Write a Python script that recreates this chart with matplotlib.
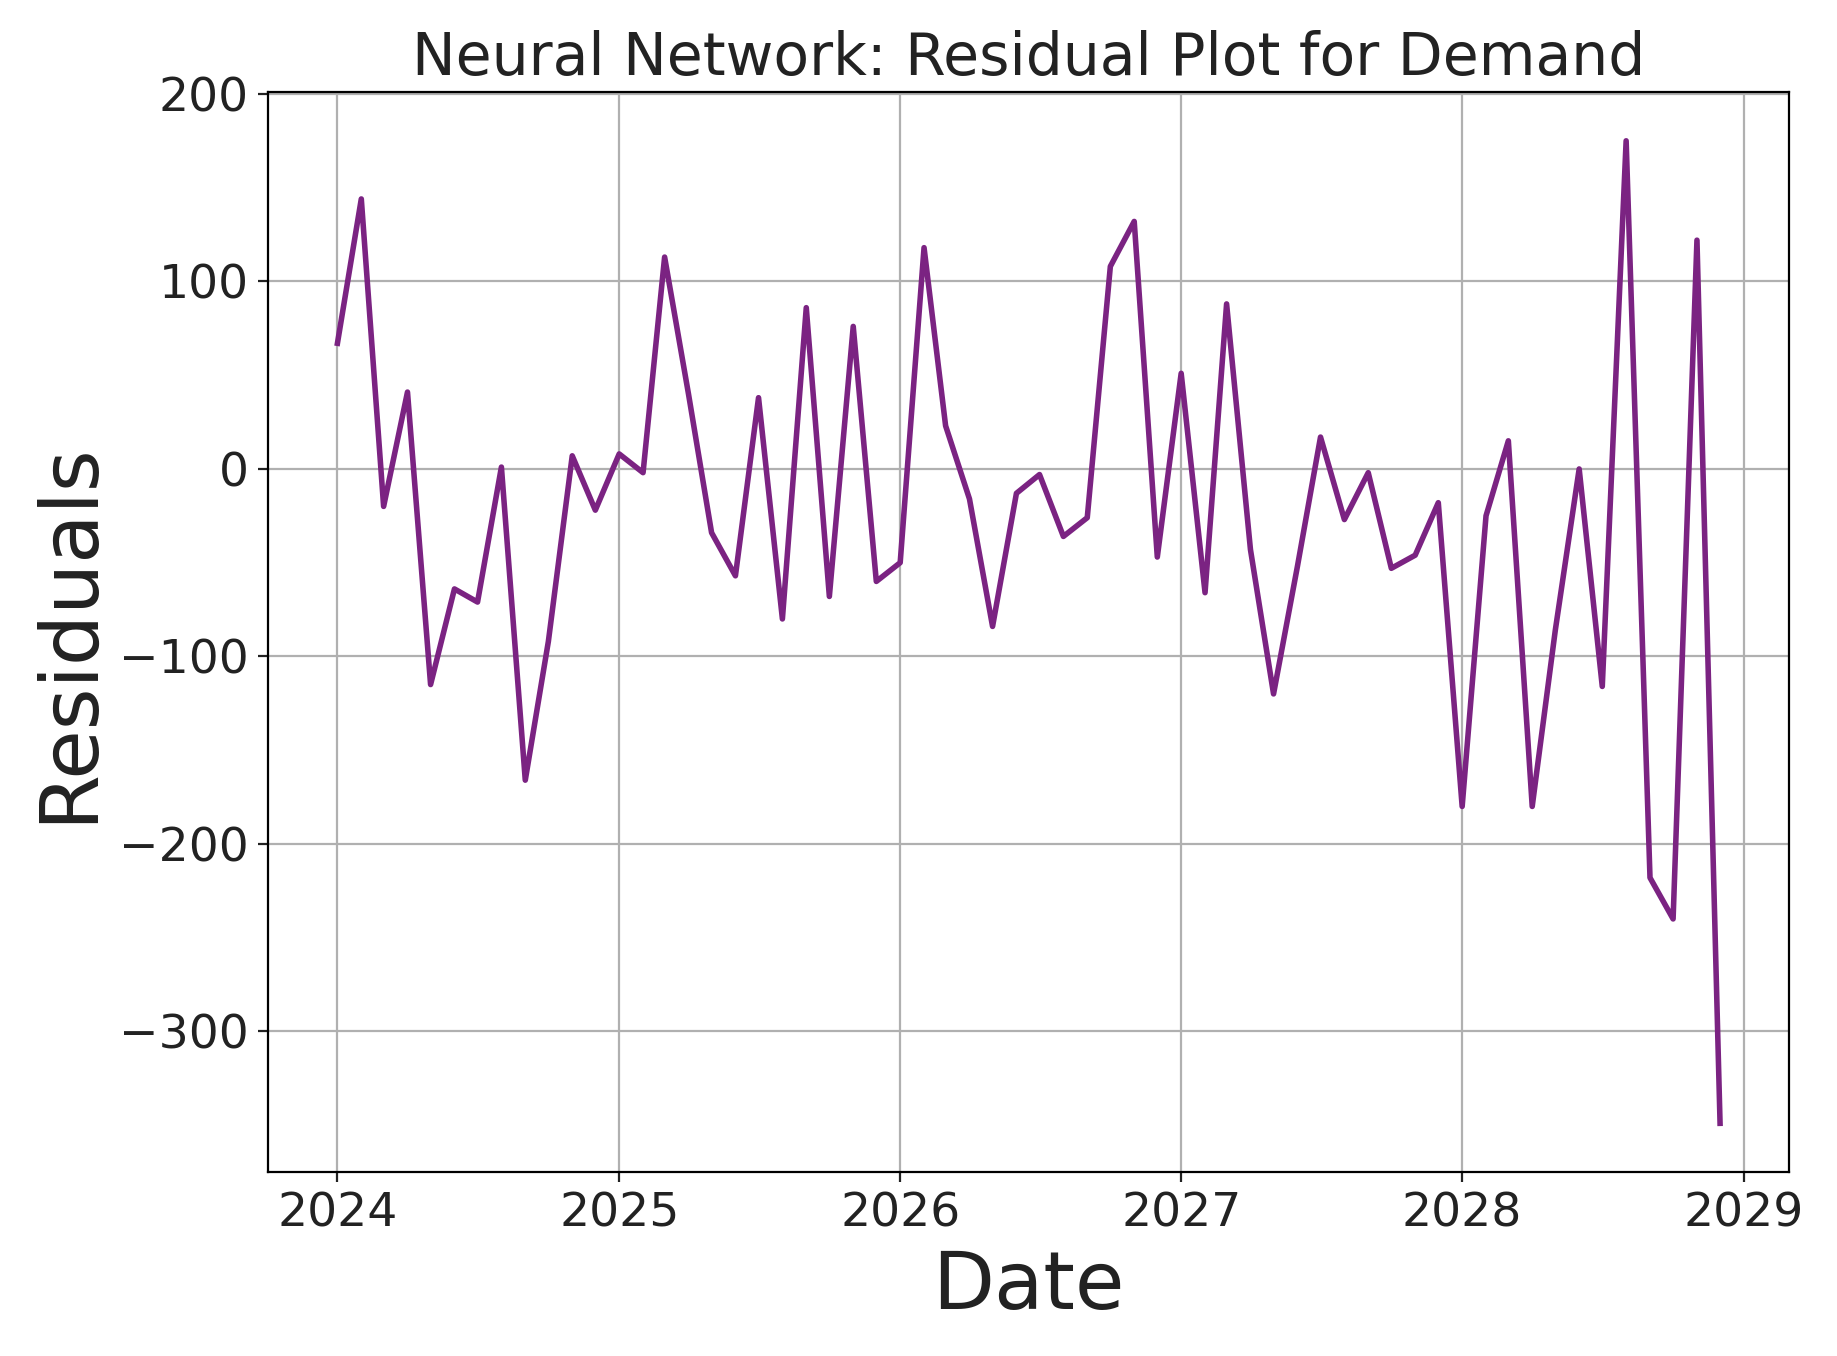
import numpy as np
import pandas as pd
import matplotlib
matplotlib.use("Agg")
import matplotlib.pyplot as plt

dates = pd.date_range("2024-01-01", periods=60, freq="MS")
residuals = [67, 144, -20, 41, -115, -64, -71, 1, -166, -92, 7, -22,
             8, -2, 113, 40, -34, -57, 38, -80, 86, -68, 76, -60,
             -50, 118, 23, -16, -84, -13, -3, -36, -26, 108, 132, -47,
             51, -66, 88, -43, -120, -52, 17, -27, -2, -53, -46, -18,
             -180, -25, 15, -180, -86, 0, -116, 175, -218, -240, 122, -349]

plt.rcParams["text.color"] = "#222222"
plt.rcParams["axes.labelcolor"] = "#222222"
plt.rcParams["xtick.color"] = "#222222"
plt.rcParams["ytick.color"] = "#222222"

fig, ax = plt.subplots(figsize=(9.185, 6.78), dpi=200)
ax.plot(dates, residuals, color="#7b2382", linewidth=2)
ax.set_title("Neural Network: Residual Plot for Demand", fontsize=21)
ax.set_xlabel("Date", fontsize=29)
ax.set_ylabel("Residuals", fontsize=29)
ax.tick_params(labelsize=17)
ax.grid(True, color="#b0b0b0")
plt.tight_layout()
plt.savefig("out.png", dpi=200)
